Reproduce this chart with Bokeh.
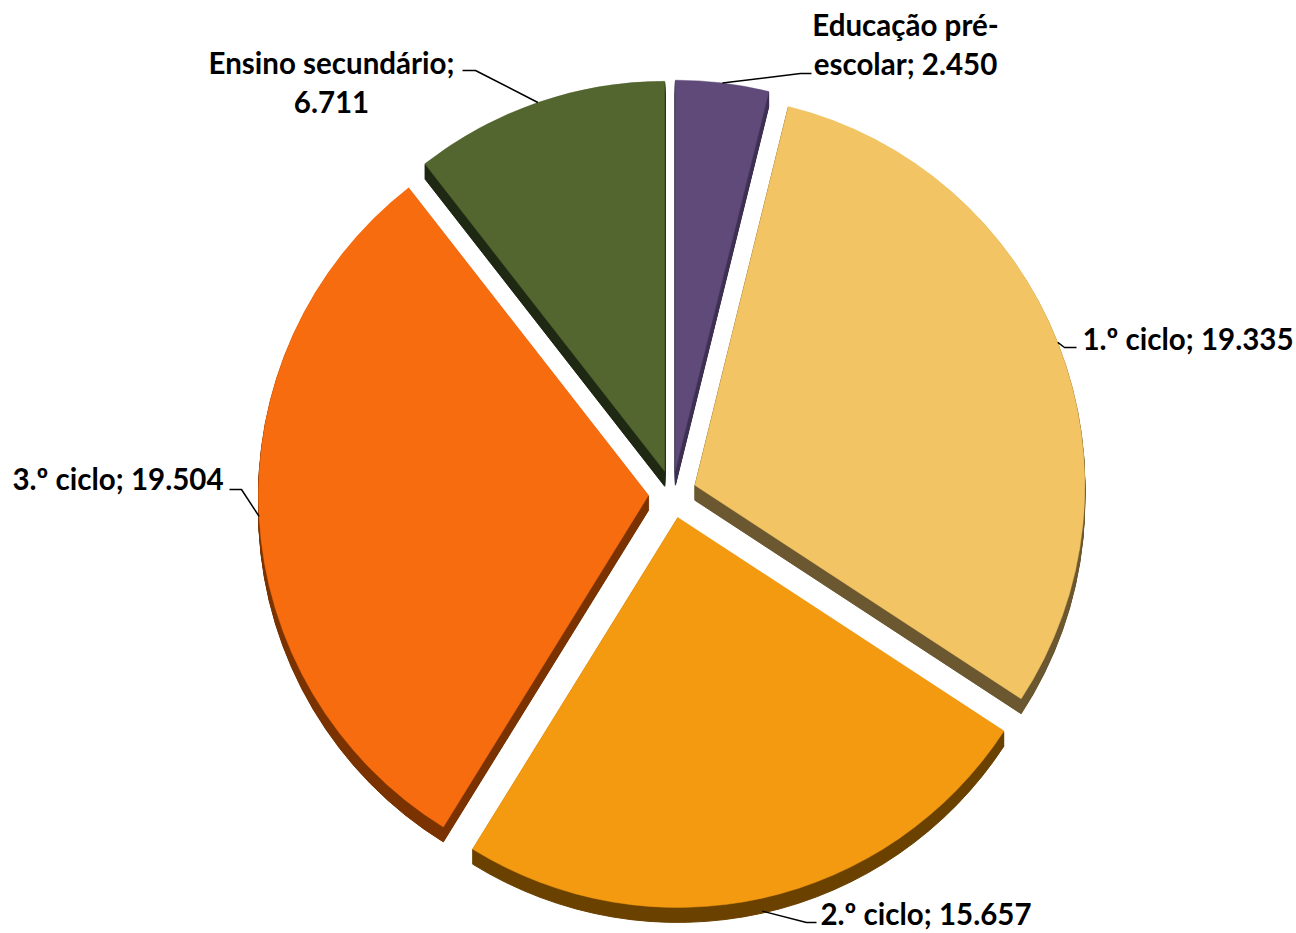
import math
from bokeh.plotting import figure
from bokeh.models import Range1d
from bokeh.embed import file_html
from bokeh.resources import INLINE
from bokeh.core.properties import value

# ---- data ----
categories = ["Educação pré-escolar", "1.º ciclo", "2.º ciclo", "3.º ciclo", "Ensino secundário"]
values = [2450, 19335, 15657, 19504, 6711]

# ---- style ----
face_colors = ["#5F4A7A", "#F2C464", "#F39A10", "#F86C10", "#53662F"]
side_colors = ["#3E3052", "#6B5730", "#6B4100", "#7A3300", "#1F2812"]
label_anchor = [(905, 34, "center"), (1082, 348, "left"), (820, 923, "left"),
                (223, 488, "right"), (331, 72, "center")]
line_break = ["pré-", None, None, None, "; "]
line_gap = 39
leader_tail = [[(800, 73), (811, 73)], [(1064, 347), (1076, 347)], [(806, 922), (816, 922)],
               [(241, 489), (229, 489)], [(475, 70), (462, 70)]]

W, H = 1296, 933
CX, CY = 672.0, 493.5      # pie centre (screen px)
R = 390.0
EXPLODE = 24.0
DEPTH = 15
FONT = "Lato"
FSIZE = "29.5px"
TEXT_DY = -10              # compensation of the svg text baseline placement


def Y(sy):
    return H - sy


p = figure(width=W, height=H,
           x_range=Range1d(0, W),
           y_range=Range1d(0, H),
           output_backend="svg", toolbar_location=None, min_border=0,
           x_axis_location=None, y_axis_location=None)
p.grid.visible = False
p.outline_line_color = None
p.background_fill_color = "white"
p.border_fill_color = "white"

total = float(sum(values))
cum = 0.0
slices = []
for i, v in enumerate(values):
    th1 = cum / total * 360.0
    th2 = (cum + v) / total * 360.0
    cum += v
    mid = math.radians((th1 + th2) / 2.0)
    tx = CX + EXPLODE * math.sin(mid)
    ty = CY - EXPLODE * math.cos(mid)
    slices.append(dict(tx=tx, ty=ty, start=math.radians(90 - th2), end=math.radians(90 - th1), mid=mid))

# side (depth) faces: swept wedges
sx, sy, ss, se, sc = [], [], [], [], []
for i, s in enumerate(slices):
    for k in range(1, DEPTH + 1):
        sx.append(s["tx"]); sy.append(Y(s["ty"] + k))
        ss.append(s["start"]); se.append(s["end"]); sc.append(side_colors[i])
p.wedge(x=sx, y=sy, radius=R, start_angle=ss, end_angle=se,
        fill_color=sc, line_color=sc, line_width=1)

# top faces
p.wedge(x=[s["tx"] for s in slices], y=[Y(s["ty"]) for s in slices], radius=R,
        start_angle=[s["start"] for s in slices], end_angle=[s["end"] for s in slices],
        fill_color=face_colors, line_color=face_colors, line_width=0.5)

# labels + leader lines
def fmt(v):
    return f"{v:,}".replace(",", ".")

for i, (cat, v) in enumerate(zip(categories, values)):
    full = f"{cat}; {fmt(v)}"
    if line_break[i]:
        k = full.index(line_break[i]) + len(line_break[i])
        lines = [full[:k].rstrip(), full[k:].strip()]
    else:
        lines = [full]
    ax, ay, align = label_anchor[i]
    p.text(x=[ax] * len(lines), y=[Y(ay + TEXT_DY + j * line_gap) for j in range(len(lines))], text=lines,
           text_font=value(FONT), text_font_style="bold", text_font_size=FSIZE,
           text_align=align, text_baseline="alphabetic", text_color="black")
    s = slices[i]
    px = s["tx"] + R * math.sin(s["mid"])
    py = s["ty"] - R * math.cos(s["mid"])
    if math.cos(s["mid"]) < -0.5:
        py += DEPTH - 2
    xs = [px] + [q[0] for q in leader_tail[i]]
    ys = [Y(py)] + [Y(q[1]) for q in leader_tail[i]]
    p.line(x=xs, y=ys, line_color="black", line_width=1.5)

open("out.html", "w").write(file_html(p, INLINE))
